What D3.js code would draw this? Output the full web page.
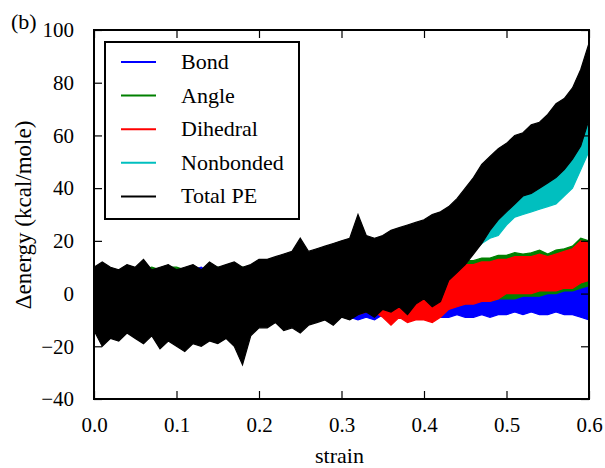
<!DOCTYPE html>
<html>
<head>
<meta charset="utf-8">
<script src="https://cdn.jsdelivr.net/npm/d3@7"></script>
<style>
  body { margin: 0; background: #fff; }
  svg { display: block; }
  text { font-family: "Liberation Serif", "DejaVu Serif", serif; fill: #000; }
</style>
</head>
<body>
<div id="chart"></div>
<script>
// strain grid the envelopes were read at
var strain = [0.00,0.01,0.02,0.03,0.04,0.05,0.06,0.07,0.08,0.09,
  0.10,0.11,0.12,0.13,0.14,0.15,0.16,0.17,0.18,0.19,
  0.20,0.21,0.22,0.23,0.24,0.25,0.26,0.27,0.28,0.29,
  0.30,0.31,0.32,0.33,0.34,0.35,0.36,0.37,0.38,0.39,
  0.40,0.41,0.42,0.43,0.44,0.45,0.46,0.47,0.48,0.49,
  0.50,0.51,0.52,0.53,0.54,0.55,0.56,0.57,0.58,0.59,0.60];

// each series is drawn as its min/max band (kcal/mole)
var bondLow = [-8,-9,-8,-9,-8,-9,-8,-9,-8,-9, -9,-8,-9,-8,-9,-8,-9,-8,-9,-8,
  -8,-9,-8,-9,-8,-9,-8,-9,-8,-9, -8,-9,-10,-9,-10,-8,-9,-8,-9,-8,
  -9,-8,-9,-9,-8,-9,-9,-8,-9,-8, -8,-7,-8,-7,-8,-8,-7,-8,-8,-9, -10];
var bondHigh = [7,8,7,8,7,8,8,7,8,10, 9,8,9,10,8,9,8,8,9,8,
  8,7,8,7,6,6,5,5,4,4, 2,1,0,0,1,0,1,0,0,0,
  1,1,0,0,0,1,0,1,0,1, 1,1,2,1,2,2,1,2,3,3, 5];

var angleLow = [-7,-8,-7,-8,-7,-8,-7,-8,-7,-8, -8,-7,-8,-7,-8,-7,-8,-7,-8,-7,
  -7,-7,-6,-7,-6,-7,-6,-6,-7,-6, -6,-6,-6,-5,-6,-5,-6,-5,-6,-5,
  -5,-5,-4,-4,-4,-4,-3,-3,-3,-2, -2,-2,-1,-1,-1,0,0,1,1,2, 3];
var angleHigh = [9,10,9,8,10,9,9,10,9,10, 10,9,10,9,9,10,9,10,10,9,
  10,11,10,11,10,11,12,11,10,11, 10,11,12,11,12,12,13,13,14,14,
  7,8,10,11,12,12.5,12.5,13.5,13.5,14.5, 14.5,15.5,15,15.5,16.5,15,16.5,17,18,21, 20];

var dihedralLow = [-8,-9,-8,-10,-8,-9,-8,-9,-10,-8, -9,-10,-8,-9,-8,-9,-10,-8,-9,-10,
  -12,-9,-8,-10,-9,-8,-10,-9,-8,-9, -8,-7,-8,-7,-7,-9,-12,-9,-11,-10,
  -10,-11,-9,-6,-5,-4,-4,-3,-3,-2, 0,0,0,0,1,1,1,2,2,4, 5];
var dihedralHigh = [4,5,3,4,5,4,3,5,4,5, 4,3,5,4,6,4,5,3,4,5,
  3,4,2,3,1,2,0,1,-1,-2, -3,-2,-2,-1,0,0,2,3,3,4,
  6,7,8,10,10,11,11,12,12,13, 13,14,14,14,15,14,15,16,17,20, 19];

var nonbondedLow = [-10,-12,-11,-12,-10,-11,-12,-10,-13,-12, -13,-14,-12,-13,-12,-12,-11,-13,-12,-10,
  -8,-9,-7,-9,-8,-9,-7,-6,-5,-7, -5,-6,-4,-3,-5,-2,-3,-1,-4,0,
  1,-1,2,7,10,13,16,19,21,22, 26,29,30,31,32,33,34,37,40,47, 54];
var nonbondedHigh = [5,7,5,4,6,5,6,4,5,6, 4,5,6,4,6,5,6,6,5,6,
  8,8,9,10,11,12,11,12,13,13, 14,15,16,16,16,17,18,19,20,21,
  22,23,24,26,28,31,34,37,40,42, 44,46,48,50,51,53,55,57,59,62, 66];

var totalLow = [-14,-20,-17,-18,-15,-17,-19,-16,-21,-18, -20,-22,-19,-20,-18,-19,-17,-20,-27,-16,
  -13,-13,-11,-14,-13,-15,-12,-11,-10,-12, -9,-10,-8,-7,-9,-6,-7,-5,-8,-4,
  -2,-5,-3,5,8,11,15,19,24,28, 31,34,37,38,40,42,44,47,51,56, 66];
var totalHigh = [10,12,10,9,11,10,13,9,10,11, 9,10,11,9,12,10,11,12,10,11,
  13,13,14,15,16,21,16,17,18,19, 20,21,30,22,21,22,24,25,26,27,
  28,30,31,33,36,40,44,49,52,55, 57,60,61,64,65,68,72,74,78,85, 95];

var seriesNames = ["Bond", "Angle", "Dihedral", "Nonbonded", "Total PE"];
var seriesColors = ["#0000ff", "#008000", "#ff0000", "#00bfbf", "#000000"];
var xTicks = [0.0, 0.1, 0.2, 0.3, 0.4, 0.5, 0.6];
var yTicks = [-40, -20, 0, 20, 40, 60, 80, 100];

var W = 605, H = 468;
var plotLeft = 94, plotRight = 589, plotTop = 30, plotBottom = 399;
var TICK = 8;

var svg = d3.select("#chart").append("svg")
  .attr("width", W)
  .attr("height", H);

var x = d3.scaleLinear().domain([0, 0.6]).range([plotLeft, plotRight]);
var y = d3.scaleLinear().domain([-40, 100]).range([plotBottom, plotTop]);

svg.append("clipPath").attr("id", "plotclip")
  .append("rect")
  .attr("x", plotLeft).attr("y", plotTop)
  .attr("width", plotRight - plotLeft).attr("height", plotBottom - plotTop);

var bands = [
  [bondLow, bondHigh],
  [angleLow, angleHigh],
  [dihedralLow, dihedralHigh],
  [nonbondedLow, nonbondedHigh],
  [totalLow, totalHigh]
];

var area = d3.area()
  .x(function(d) { return x(d.s); })
  .y0(function(d) { return y(d.lo); })
  .y1(function(d) { return y(d.hi); });

var plot = svg.append("g").attr("clip-path", "url(#plotclip)");

bands.forEach(function(b, k) {
  var pts = strain.map(function(s, i) { return { s: s, lo: b[0][i], hi: b[1][i] }; });
  plot.append("path")
    .datum(pts)
    .attr("d", area)
    .style("fill", seriesColors[k])
    .style("stroke", seriesColors[k])
    .style("stroke-width", 1.2)
    .style("stroke-linejoin", "miter");
});

// ticks point inwards on all four sides (classic matplotlib)
var fmtY = function(d) { return d < 0 ? "\u2212" + Math.abs(d) : String(d); };

svg.append("g")
  .attr("transform", "translate(0," + plotBottom + ")")
  .call(d3.axisBottom(x).tickValues(xTicks).tickSize(-TICK).tickPadding(TICK + 10)
    .tickFormat(d3.format(".1f")));
svg.append("g")
  .attr("transform", "translate(0," + plotTop + ")")
  .call(d3.axisTop(x).tickValues(xTicks).tickSize(-TICK).tickFormat(""));
svg.append("g")
  .attr("transform", "translate(" + plotLeft + ",0)")
  .call(d3.axisLeft(y).tickValues(yTicks).tickSize(-TICK).tickPadding(TICK + 12)
    .tickFormat(fmtY));
svg.append("g")
  .attr("transform", "translate(" + plotRight + ",0)")
  .call(d3.axisRight(y).tickValues(yTicks).tickSize(-TICK).tickFormat(""));

svg.selectAll(".domain").remove();
svg.selectAll(".tick line").style("stroke", "#000").style("stroke-width", 1.2);
svg.selectAll(".tick text")
  .style("font-family", "'Liberation Serif', serif")
  .style("font-size", "21px")
  .style("fill", "#000");

svg.append("rect")
  .attr("x", plotLeft).attr("y", plotTop)
  .attr("width", plotRight - plotLeft).attr("height", plotBottom - plotTop)
  .style("fill", "none")
  .style("stroke", "#000")
  .style("stroke-width", 2);

// legend
var lg = svg.append("g");
lg.append("rect")
  .attr("x", 105).attr("y", 42)
  .attr("width", 194).attr("height", 177)
  .style("fill", "#fff")
  .style("stroke", "#000")
  .style("stroke-width", 2);

seriesNames.forEach(function(name, i) {
  var cy = 62 + i * 33.6;
  lg.append("line")
    .attr("x1", 121).attr("x2", 156)
    .attr("y1", cy).attr("y2", cy)
    .style("stroke", seriesColors[i])
    .style("stroke-width", 2);
  lg.append("text")
    .attr("x", 181).attr("y", cy + 7)
    .style("font-size", "22px")
    .text(name);
});

svg.append("text")
  .attr("x", (plotLeft + plotRight) / 2 - 2).attr("y", 463)
  .attr("text-anchor", "middle")
  .style("font-size", "22px")
  .text("strain");

svg.append("text")
  .attr("transform", "translate(31,215) rotate(-90)")
  .attr("text-anchor", "middle")
  .style("font-size", "23px")
  .text("\u0394energy (kcal/mole)");

svg.append("text")
  .attr("x", 11).attr("y", 29)
  .style("font-size", "22px")
  .text("(b)");
</script>
</body>
</html>
